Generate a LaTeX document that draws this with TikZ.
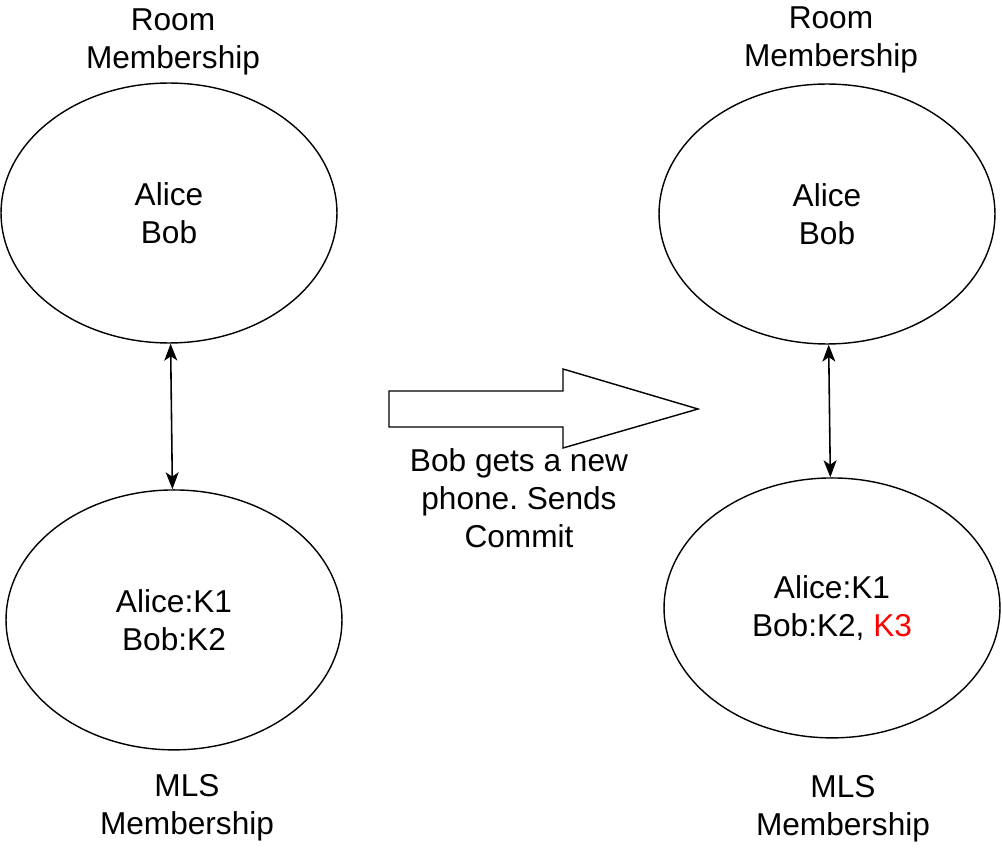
\documentclass[tikz,border=0pt]{standalone}
\usepackage{fontspec}
\setmainfont{Liberation Sans}
\usepackage{xcolor}
\usepackage{tikz}
\usetikzlibrary{shapes.geometric, arrows.meta}
\frenchspacing
\tikzstyle{memb} = [ellipse, minimum width=6.72cm, minimum height=5.2cm, inner sep=0pt, text centered, align=center, draw=black, line width=0.8pt, fill=white, font=\fontsize{18}{21.6}\selectfont]
\tikzstyle{lbl} = [align=center, font=\fontsize{18}{21.6}\selectfont]
\tikzstyle{bigarrow} = [draw=black, line width=0.8pt, fill=white, line join=miter]
\tikzstyle{arrow} = [line width=0.9pt, {Stealth[length=0.34cm, width=0.26cm, inset=0.09cm]}-{Stealth[length=0.34cm, width=0.26cm, inset=0.09cm]}]

\begin{document}
\begin{tikzpicture}[x=0.02cm, y=-0.02cm, node distance=8.14cm]
\useasboundingbox (0,0) rectangle (1002,848);

\node (r1) [memb] at (169,213) {Alice\\Bob};
\node (m1) [memb, below of=r1, xshift=0.1cm] {Alice:K1\\Bob:K2};

\node (r2) [memb] at (827,214) {Alice\\Bob};
\node (m2) [memb, below of=r2, xshift=0.1cm, yshift=0.26cm] {Alice:K1\\Bob:K2, \textcolor{red}{K3}};

\node (t1) [lbl] at (173,42) {Room\\Membership};
\node (t2) [lbl] at (831,40) {Room\\Membership};
\node (b1) [lbl] at (187,808) {MLS\\Membership};
\node (b2) [lbl] at (843,809) {MLS\\Membership};

\draw [arrow] (r1) -- (m1);
\draw [arrow] (r2) -- (m2);

\draw [bigarrow] (389,391) -- (563,391) -- (563,369) -- (698,409) -- (563,448) -- (563,427) -- (389,427) -- cycle;
\node (cap) [lbl] at (519,498) {Bob gets a new\\phone. Sends\\Commit};

\end{tikzpicture}
\end{document}
